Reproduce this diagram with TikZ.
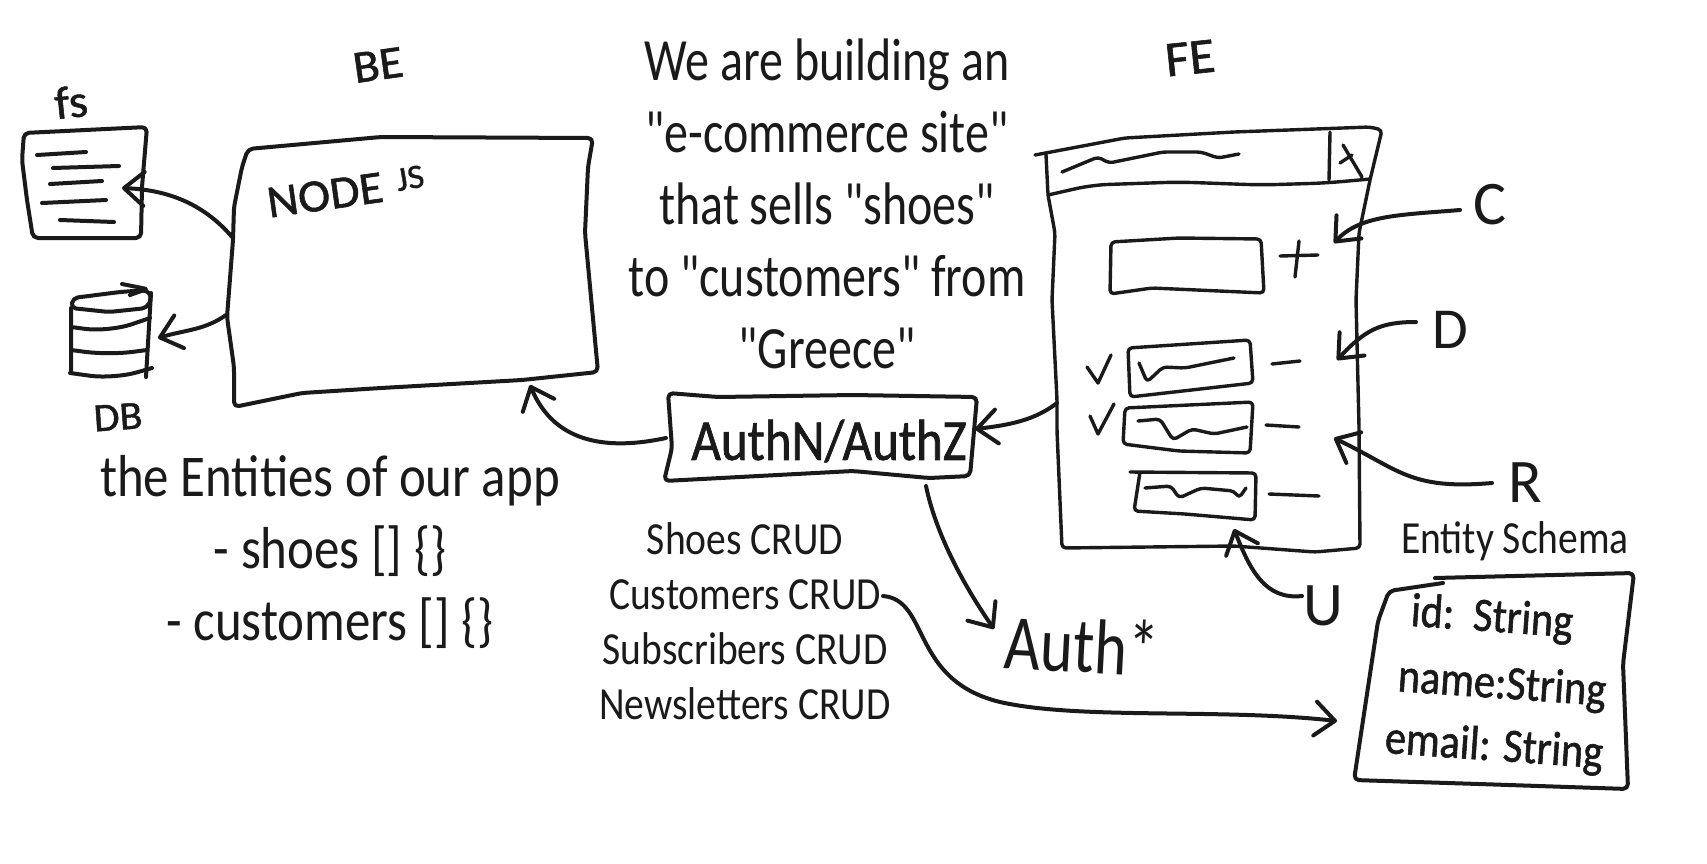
\documentclass[tikz,border=0pt]{standalone}
\usepackage{fontspec}
\usetikzlibrary{arrows.meta}
\newfontfamily\typed[FakeStretch=0.80]{Carlito}
\newfontfamily\typedw[FakeStretch=0.86]{Carlito}
\newfontfamily\hand[FakeStretch=0.88,FakeBold=1.2]{Carlito}
\newfontfamily\handw[FakeStretch=1.05,FakeBold=1.2]{Carlito}
\newfontfamily\handt[FakeStretch=1.0]{Carlito}
\definecolor{ink}{HTML}{1A1A1A}
\tikzset{
  x=0.5pt,y=-0.5pt,
  every node/.style={text=ink,inner sep=0pt,outer sep=0pt},
  sk/.style={draw=ink,line width=2pt,line cap=round,line join=round,rounded corners=2.5pt},
  thin sk/.style={sk,line width=1.7pt,rounded corners=2pt},
  conn/.style={draw=ink,line width=2pt,line cap=round,line join=round,
    -{Straight Barb[length=10pt,width=17pt,line cap=round,round]}},
  bigtext/.style={font=\typed\fontsize{30}{36}\selectfont,align=center,anchor=base},
  midtext/.style={font=\typedw\fontsize{23}{27.5}\selectfont,align=center,anchor=base},
  handtext/.style={font=\handw\fontsize{23}{24}\selectfont},
  bigletter/.style={font=\handt\fontsize{31}{34}\selectfont},
  schema/.style={font=\hand\fontsize{24}{24}\selectfont,rotate=-4},
}
\begin{document}
\begin{tikzpicture}
\useasboundingbox[fill=white] (0,0) rectangle (1707,863);

% --- texts
\node[bigtext] (title) at (827,368) {We are building an\\"e-commerce site"\\that sells "shoes"\\to "customers" from\\"Greece"};
\node[bigtext,font=\typedw\fontsize{29.6}{36}\selectfont] (entities) at (330,640) {the Entities of our app\\- shoes [] \{\}\\- customers [] \{\}};
\node[midtext] (crud) at (745,719) {Shoes CRUD\\Customers CRUD\\Subscribers CRUD\\Newsletters CRUD};
\node[midtext] (schematitle) at (1515,553) {Entity Schema};
\node[handtext,rotate=8] (belabel) at (378,65) {BE};
\node[handtext,rotate=6,font=\handw\fontsize{25}{26}\selectfont] (felabel) at (1190,58) {FE};
\node[handtext,rotate=6] (fslabel) at (71,102) {fs};
\node[handtext,rotate=4,font=\handw\fontsize{20}{22}\selectfont] (dblabel) at (118,417) {DB};
\node[handtext,rotate=8,font=\handw\fontsize{23}{26}\selectfont] (nodelabel) at (325,195) {NODE};
\node[handtext,rotate=10,font=\handw\fontsize{17}{18}\selectfont] (jslabel) at (410,178) {JS};
\node[handtext,font=\hand\fontsize{29}{36}\selectfont] (authbox) at (829,441) {AuthN/AuthZ};
\node[handtext,rotate=-3,font=\typed\fontsize{39}{48}\selectfont] (authstar) at (1082,645) {Auth*};
\node[bigletter] (labc) at (1490,205) {C};
\node[bigletter,font=\handt\fontsize{29}{34}\selectfont] (labd) at (1450,330) {D};
\node[bigletter] (labr) at (1525,483) {R};
\node[bigletter] (labu) at (1323,606) {U};
\node[schema] (sid) at (1492,619) {id:\ \ String};
\node[schema] (sname) at (1502,686) {name:String};
\node[schema] (semail) at (1494,748) {email: String};

% --- fs document
\draw[sk] (24,133)--(147,127)--(142,187)--(141,238)--(33,238)--(27,200)--(22,160)--cycle;
\draw[sk] (37,155)--(86,152) (53,168)--(119,166) (50,184)--(102,181) (42,203)--(106,200) (60,220)--(114,222);

% --- DB cylinder
\draw[sk] (71,308)--(73,298)--(120,292)--(147,290)--(152,297)--(147,308)--(109,312)--cycle;
\draw[sk] (71,308)--(71,372) (151,293)--(146,377);
\draw[sk,rounded corners=12pt] (71,327)--(109,332)--(150,318) (71,350)--(109,355)--(147,350) (70,373)--(114,379)--(152,368);
\draw[sk,rounded corners=1pt] (122,284)--(147,289)--(130,295);

% --- BE box
\draw[sk] (248,149)--(381,137)--(593,138)--(588,167)--(585,233)--(598,372)--(522,380)--(381,388)--(302,393)--(234,407)--(234,367)--(227,317)--(233,240)--(234,207)--(242,167)--cycle;

% --- AuthN/AuthZ box
\draw[sk] (668,393)--(718,397)--(853,395)--(977,397)--(970,476)--(929,478)--(853,471)--(664,481)--(672,448)--cycle;

% --- FE window
\draw[thin sk] (1035,155)--(1125,138)--(1234,132)--(1370,127)--(1382,130)--(1370,180)--(1359,233)--(1356,300)--(1359,427)--(1360,548)--(1315,552)--(1234,546)--(1062,548)--(1057,431)--(1057,400)--(1052,300)--(1055,233)--(1048,195)--(1046,155);
\draw[thin sk,rounded corners=8pt] (1048,195)--(1092,185)--(1179,182)--(1261,185)--(1326,183)--(1370,179);
\draw[thin sk] (1330,132)--(1329,180);
\draw[thin sk] (1343,145)--(1362,177) (1352,155)--(1340,163);
\draw[thin sk] (1062,172)--(1098,157)--(1109,163)--(1163,152)--(1201,152)--(1218,158)--(1239,154);
% form
\draw[thin sk] (1111,242)--(1179,238)--(1261,239)--(1264,293)--(1152,288)--(1110,294)--cycle;
\draw[thin sk] (1280,256)--(1318,255) (1299,241)--(1295,277);
% row 1
\draw[thin sk] (1128,348)--(1250,340)--(1253,383)--(1130,397)--cycle;
\draw[thin sk] (1139,363)--(1147,382)--(1163,367)--(1185,368)--(1234,358);
\draw[thin sk,rounded corners=0pt] (1087,367)--(1098,383)--(1111,355);
\draw[thin sk] (1272,364)--(1300,361);
% row 2
\draw[thin sk] (1125,408)--(1253,402)--(1250,453)--(1179,451)--(1123,444)--cycle;
\draw[thin sk] (1138,421)--(1160,419)--(1173,440)--(1192,429)--(1214,434)--(1247,427);
\draw[thin sk,rounded corners=0pt] (1090,416)--(1098,434)--(1114,404);
\draw[thin sk] (1266,425)--(1299,427);
% row 3
\draw[thin sk] (1130,472)--(1256,473)--(1255,520)--(1185,514)--(1134,511)--(1140,472);
\draw[thin sk] (1145,488)--(1171,486)--(1179,498)--(1201,488)--(1234,491)--(1239,498)--(1246,488);
\draw[thin sk] (1269,494)--(1319,496);

% --- schema box
\draw[sk] (1435,578)--(1634,573)--(1623,664)--(1628,789)--(1479,784)--(1354,780)--(1378,621)--(1389,591)--(1443,583);

% --- connector ends
\coordinate (beFsStart) at (233,238);
\coordinate (fsEnd) at (122,188);
\coordinate (beDbStart) at (226,315);
\coordinate (dbEnd) at (158,338);
\coordinate (authBeStart) at (666,438);
\coordinate (beEnd) at (530,385);
\coordinate (feAuthStart) at (1057,403);
\coordinate (authEnd) at (975,429);
\coordinate (authDown) at (926,486);
\coordinate (authStarEnd) at (994,629);
\coordinate (cStart) at (1460,210);
\coordinate (cEnd) at (1334,243);
\coordinate (dStart) at (1416,322);
\coordinate (dEnd) at (1337,360);
\coordinate (rStart) at (1492,483);
\coordinate (rEnd) at (1334,438);
\coordinate (uStart) at (1302,596);
\coordinate (uEnd) at (1234,529);
\coordinate (crudStart) at (883,596);
\coordinate (schemaEnd) at (1337,721);

% --- connectors
\draw[conn] (beFsStart) .. controls (205,205) and (170,190) .. (fsEnd);
\draw[conn] (beDbStart) .. controls (205,330) and (185,330) .. (dbEnd);
\draw[conn] (authBeStart) .. controls (610,450) and (555,445) .. (beEnd);
\draw[conn] (feAuthStart) .. controls (1035,420) and (1010,425) .. (authEnd);
\draw[conn] (authDown) .. controls (935,530) and (960,580) .. (authStarEnd);
\draw[conn] (cStart) .. controls (1400,215) and (1360,215) .. (cEnd);
\draw[conn] (dStart) .. controls (1380,322) and (1365,330) .. (dEnd);
\draw[conn] (rStart) .. controls (1410,490) and (1400,470) .. (rEnd);
\draw[conn] (uStart) .. controls (1265,600) and (1250,570) .. (uEnd);
\draw[conn] (crudStart) .. controls (930,600) and (910,680) .. (1000,702) .. controls (1080,720) and (1220,708) .. (schemaEnd);
\end{tikzpicture}
\end{document}
